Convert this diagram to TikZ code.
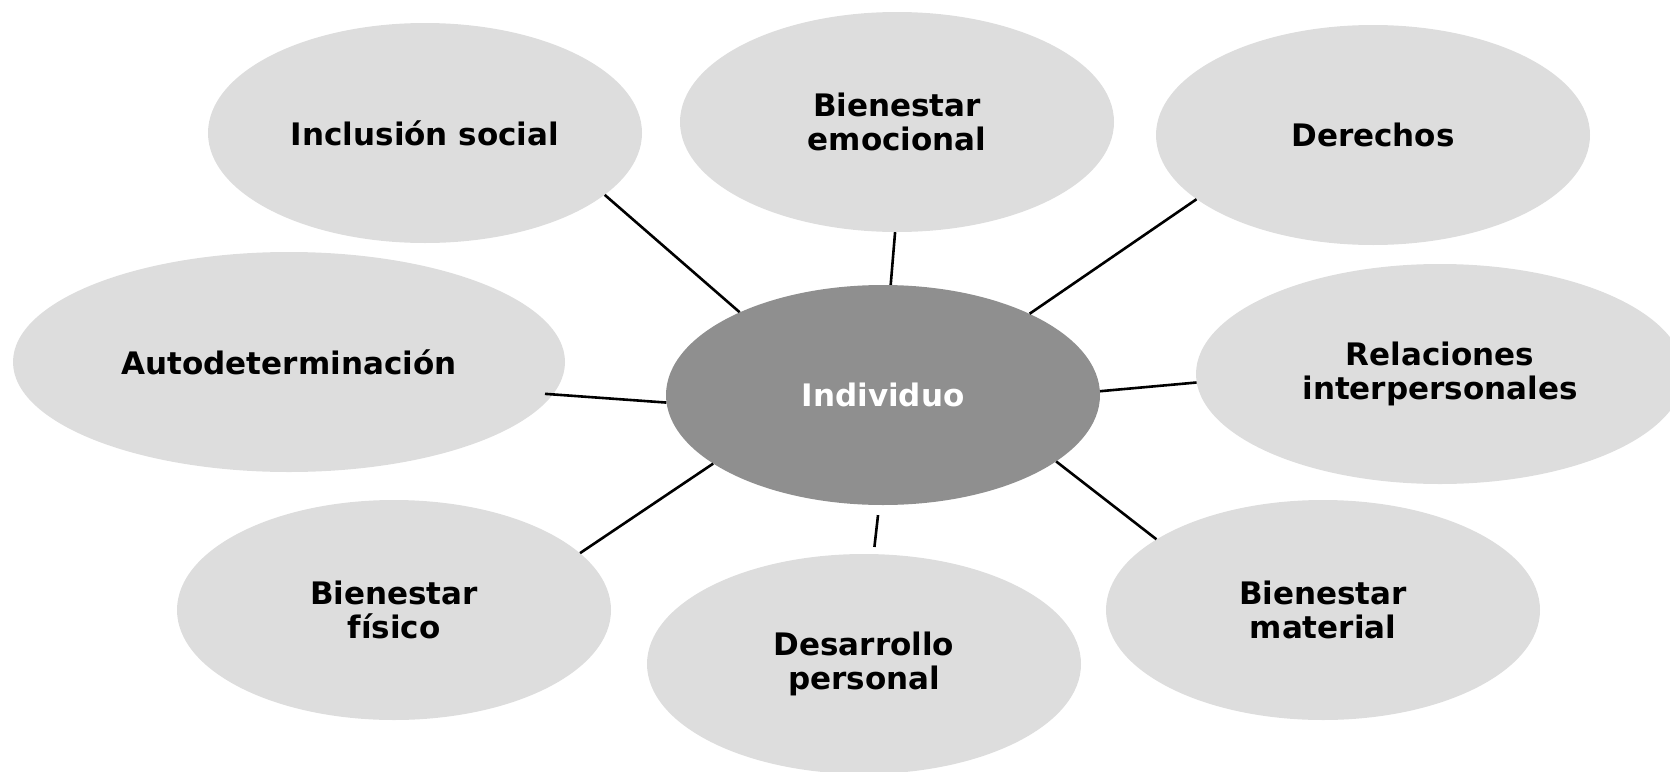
\documentclass[tikz,border=0pt]{standalone}
\usepackage{fontspec}
\setmainfont{DejaVu Sans}
\usetikzlibrary{shapes.geometric}
\definecolor{lightbub}{HTML}{DDDDDD}
\definecolor{darkbub}{HTML}{8F8F8F}
\begin{document}
\begin{tikzpicture}[x=1pt,y=-1pt,
  bub/.style={ellipse, fill=lightbub, minimum width=434pt, minimum height=220pt,
    inner sep=0pt, align=center, font=\fontsize{31}{34}\selectfont\bfseries},
  center bub/.style={bub, fill=darkbub, text=white},
  conn/.style={line width=2.6pt, black}]
\useasboundingbox (0,0) rectangle (1670,771);
\node[bub] (incl) at (425,133) {Inclusión social};
\node[bub] (emoc) at (897,122) {Bienestar\\emocional};
\node[bub] (der) at (1373,135) {Derechos};
\node[bub, minimum width=552pt] (auto) at (289,362) {Autodeterminación};
\node[center bub] (ind) at (883,395) {Individuo};
\node[bub, minimum width=488pt] (rel) at (1440,374) {Relaciones\\interpersonales};
\node[bub] (fis) at (394,610) {Bienestar\\físico};
\node[bub] (des) at (864,664) {Desarrollo\\personal};
\node[bub] (mat) at (1323,610) {Bienestar\\material};
\draw[conn] (incl.-19.4) -- (ind.150.5);
\draw[conn] (emoc.-91) -- (ind.86);
\draw[conn] (der.200.8) -- (ind.29);
\draw[conn, shorten <=-8pt] (auto.-7.1) -- (ind.182.4);
\draw[conn] (rel.182) -- (ind.1.3);
\draw[conn] (fis.17.3) -- (ind.202);
\draw[conn, shorten <=10pt, shorten >=7pt] (ind.-92) -- (des.85);
\draw[conn] (mat.157.6) -- (ind.-21.8);
\end{tikzpicture}
\end{document}
